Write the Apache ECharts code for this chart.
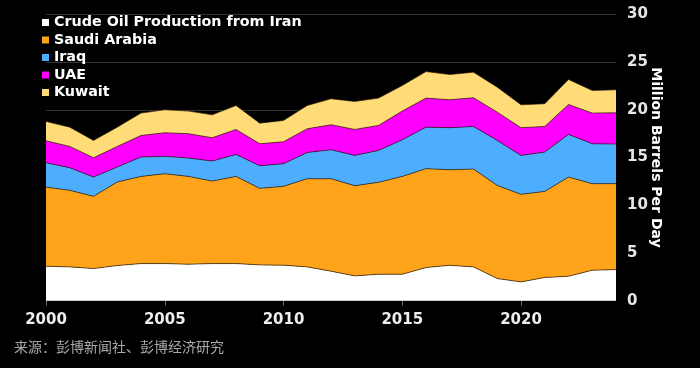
<!DOCTYPE html>
<html>
<head>
<meta charset="utf-8">
<script src="https://cdn.jsdelivr.net/npm/echarts@6/dist/echarts.min.js"></script>
<style>
html,body{margin:0;padding:0;background:#000;}
#chart{width:700px;height:368px;}
</style>
</head>
<body>
<div id="chart"></div>
<script>
const years = ['2000','2001','2002','2003','2004','2005','2006','2007','2008','2009','2010','2011','2012','2013','2014','2015','2016','2017','2018','2019','2020','2021','2022','2023','2024'];
const iran   = [3.61,3.54,3.37,3.68,3.89,3.89,3.82,3.89,3.89,3.75,3.72,3.54,3.09,2.60,2.77,2.77,3.47,3.71,3.54,2.32,1.97,2.43,2.56,3.19,3.26];
const saudi  = [8.29,8.02,7.56,8.75,9.13,9.41,9.20,8.64,9.13,8.02,8.26,9.24,9.69,9.45,9.63,10.25,10.36,10.01,10.25,9.76,9.17,9.02,10.39,9.07,9.00];
const iraq   = [2.55,2.37,2.02,1.57,2.03,1.82,1.92,2.10,2.30,2.37,2.37,2.75,3.03,3.17,3.34,3.84,4.35,4.40,4.46,4.71,4.08,4.12,4.47,4.18,4.15];
const uae    = [2.30,2.23,2.02,2.16,2.26,2.47,2.55,2.44,2.62,2.30,2.30,2.48,2.62,2.72,2.62,3.00,3.04,2.93,3.01,2.96,2.90,2.68,3.13,3.21,3.27];
const kuwait = [2.03,2.02,1.82,2.02,2.34,2.41,2.37,2.40,2.51,2.16,2.23,2.44,2.72,2.93,2.86,2.68,2.78,2.64,2.67,2.62,2.40,2.38,2.62,2.37,2.41];
const seriesNames = ['Crude Oil Production from Iran','Saudi Arabia','Iraq','UAE','Kuwait'];
const seriesColors = ['#ffffff','#ffa31a','#4daeff','#ff00ff','#ffdc78'];
const seriesData = [iran, saudi, iraq, uae, kuwait];
const yTicks = {min:0, max:30, interval:5};
const sourceText = '来源：彭博新闻社、彭博经济研究';
const yName = 'Million Barrels Per Day';

const font = 'DejaVu Sans';
const chart = echarts.init(document.getElementById('chart'), null, {renderer:'canvas'});
chart.setOption({
  backgroundColor:'#000',
  animation:false,
  grid:{left:46, right:84, top:14.3, bottom:67.3, containLabel:false},
  legend:{
    orient:'vertical', left:37, top:10, padding:5, icon:'rect', itemWidth:7, itemHeight:7, itemGap:2.5,
    textStyle:{color:'#fff', fontFamily:font, fontWeight:'bold', fontSize:14.3, lineHeight:15},
    data:seriesNames, selectedMode:false
  },
  xAxis:{
    type:'category', data:years, boundaryGap:false,
    axisLine:{show:false},
    axisTick:{show:true, interval:4, length:5, lineStyle:{color:'#666'}},
    axisLabel:{interval:4, color:'#eee', fontFamily:font, fontWeight:'bold', fontSize:15, margin:12},
    splitLine:{show:false}
  },
  yAxis:{
    type:'value', position:'right', min:yTicks.min, max:yTicks.max, interval:yTicks.interval,
    name:yName, nameLocation:'middle', nameRotate:-90, nameGap:33, nameMoveOverlap:false,
    nameTextStyle:{color:'#fff', fontFamily:font, fontWeight:'bold', fontSize:14},
    axisLine:{show:false}, axisTick:{show:false},
    axisLabel:{color:'#e6e6e6', fontFamily:font, fontWeight:'bold', fontSize:15, margin:11},
    splitLine:{lineStyle:{color:'#333', width:1}}
  },
  series: seriesData.map((d,i)=>({
    name:seriesNames[i], type:'line', stack:'total', data:d, symbol:'none',
    lineStyle:{color:'rgba(40,20,0,0.8)', width:0.8},
    itemStyle:{color:seriesColors[i]},
    areaStyle:{color:seriesColors[i], opacity:1},
    emphasis:{disabled:true}
  })),
  graphic:[{
    type:'text', left:14, top:340,
    style:{text:sourceText, fill:'#aaa', font:'14px "Noto Sans CJK SC"'}
  }]
});
</script>
</body>
</html>
